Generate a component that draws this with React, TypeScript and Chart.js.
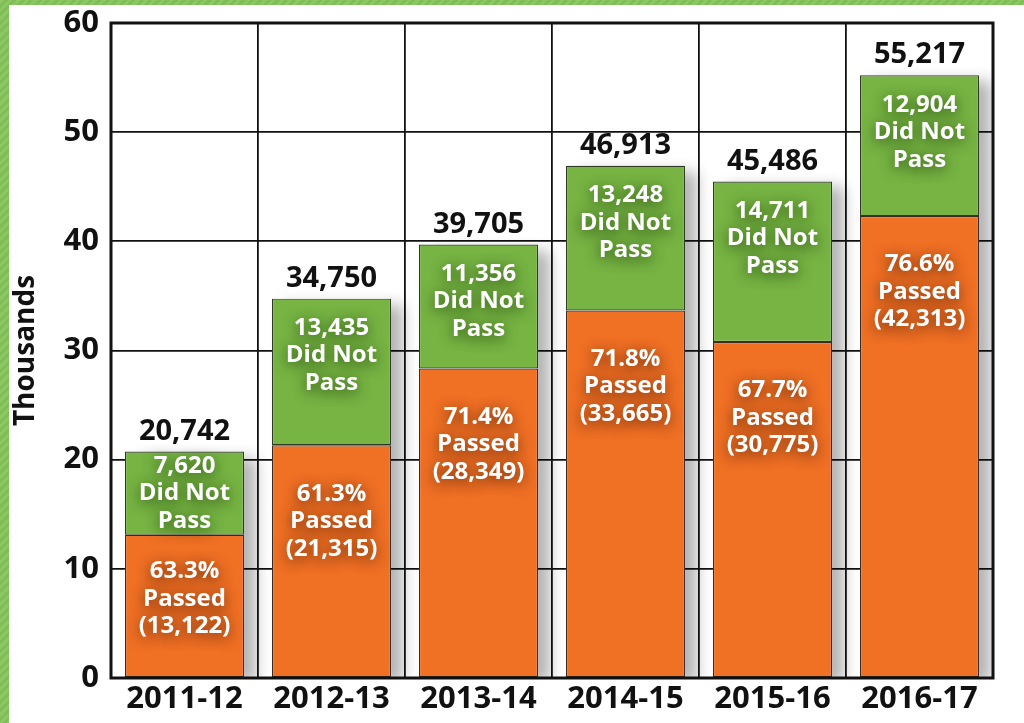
import React, { useEffect, useRef } from "react";
import { Chart, registerables } from "chart.js";

Chart.register(...registerables);

const categories = ["2011-12", "2012-13", "2013-14", "2014-15", "2015-16", "2016-17"];
const passed = [13.122, 21.315, 28.349, 33.665, 30.775, 42.313];
const didNotPass = [7.62, 13.435, 11.356, 13.248, 14.711, 12.904];
const totalLabels = ["20,742", "34,750", "39,705", "46,913", "45,486", "55,217"];
const passedLabels = [
  ["63.3%", "Passed", "(13,122)"],
  ["61.3%", "Passed", "(21,315)"],
  ["71.4%", "Passed", "(28,349)"],
  ["71.8%", "Passed", "(33,665)"],
  ["67.7%", "Passed", "(30,775)"],
  ["76.6%", "Passed", "(42,313)"],
];
const notPassLabels = [
  ["7,620", "Did Not", "Pass"],
  ["13,435", "Did Not", "Pass"],
  ["11,356", "Did Not", "Pass"],
  ["13,248", "Did Not", "Pass"],
  ["14,711", "Did Not", "Pass"],
  ["12,904", "Did Not", "Pass"],
];
const yTicks = [0, 10, 20, 30, 40, 50, 60];

const FONT = "'Open Sans', 'Noto Sans', sans-serif";
const ORANGE = "#F07024";
const GREEN = "#77B443";

const shadowPlugin = {
  id: "barShadow",
  beforeDatasetsDraw(chart: any) {
    const ctx = chart.ctx;
    const metaTop = chart.getDatasetMeta(1);
    const metaBottom = chart.getDatasetMeta(0);
    ctx.save();
    ctx.beginPath();
    ctx.rect(chart.chartArea.left, chart.chartArea.top, chart.chartArea.right - chart.chartArea.left, chart.chartArea.bottom - chart.chartArea.top);
    ctx.clip();
    metaTop.data.forEach((bar: any, i: number) => {
      const b = metaBottom.data[i] as any;
      const x0 = bar.x - bar.width / 2;
      const top = bar.y;
      const bottom = b.base;
      ctx.shadowColor = "rgba(0,0,0,0.3)";
      ctx.shadowBlur = 14;
      ctx.shadowOffsetX = 12;
      ctx.shadowOffsetY = 6;
      ctx.fillStyle = "#ffffff";
      ctx.fillRect(x0, top, bar.width, bottom - top);
    });
    ctx.restore();
  },
};

const labelPlugin = {
  id: "barLabels",
  afterDatasetsDraw(chart: any) {
    const ctx = chart.ctx;
    const m0 = chart.getDatasetMeta(0);
    const m1 = chart.getDatasetMeta(1);
    const lh = 27.5;
    ctx.save();
    ctx.textAlign = "center";
    ctx.textBaseline = "middle";
    m0.data.forEach((bar: any, i: number) => {
      const top = bar.y;
      const bottom = bar.base;
      const cy = Math.min(top + 76, (top + bottom) / 2 - 7);
      ctx.font = `bold 24px ${FONT}`;
      ctx.fillStyle = "#ffffff";
      ctx.shadowColor = "rgba(60,20,0,0.85)";
      ctx.shadowBlur = 14;
      ctx.shadowOffsetX = 0;
      ctx.shadowOffsetY = 3;
      passedLabels[i].forEach((t, k) => ctx.fillText(t, bar.x, cy + (k - 1) * lh));
    });
    m1.data.forEach((bar: any, i: number) => {
      const top = bar.y;
      const bottom = bar.base;
      const cy = Math.min(top + 57, (top + bottom) / 2);
      ctx.font = `bold 24px ${FONT}`;
      ctx.fillStyle = "#ffffff";
      ctx.shadowColor = "rgba(20,50,0,0.85)";
      ctx.shadowBlur = 14;
      ctx.shadowOffsetX = 0;
      ctx.shadowOffsetY = 3;
      notPassLabels[i].forEach((t, k) => ctx.fillText(t, bar.x, cy + (k - 1) * lh));
      ctx.shadowColor = "transparent";
      ctx.shadowBlur = 0;
      ctx.shadowOffsetY = 0;
      ctx.fillStyle = "#111111";
      ctx.font = `bold 29px ${FONT}`;
      ctx.fillText(totalLabels[i], bar.x, top - 20);
    });
    ctx.restore();
  },
};

const borderPlugin = {
  id: "plotBorder",
  afterDatasetsDraw(chart: any) {
    const { ctx, chartArea } = chart;
    ctx.save();
    ctx.strokeStyle = "#111111";
    ctx.lineWidth = 3;
    ctx.strokeRect(chartArea.left, chartArea.top, chartArea.right - chartArea.left, chartArea.bottom - chartArea.top);
    ctx.restore();
  },
};

export default function App() {
  const ref = useRef<HTMLCanvasElement | null>(null);
  useEffect(() => {
    if (!ref.current) return;
    const chart = new Chart(ref.current, {
      type: "bar",
      data: {
        labels: categories,
        datasets: [
          {
            label: "Passed",
            data: passed,
            backgroundColor: ORANGE,
            borderColor: "#3a2a20",
            borderWidth: 1.2,
            borderSkipped: false,
            barPercentage: 0.81,
            categoryPercentage: 1,
          },
          {
            label: "Did Not Pass",
            data: didNotPass,
            backgroundColor: GREEN,
            borderColor: "#2f3a25",
            borderWidth: 1.2,
            borderSkipped: false,
            barPercentage: 0.81,
            categoryPercentage: 1,
          },
        ],
      },
      options: {
        animation: false,
        responsive: false,
        maintainAspectRatio: false,
        layout: { padding: { top: 18, right: 31, bottom: 0, left: 0 } },
        plugins: {
          legend: { display: false },
          tooltip: { enabled: false },
        },
        scales: {
          x: {
            stacked: true,
            offset: true,
            grid: {
              offset: true,
              color: "#111111",
              lineWidth: 1.8,
              drawTicks: false,
            },
            border: { display: false },
            ticks: {
              color: "#111111",
              padding: 3,
              font: { family: FONT, size: 31, weight: "bold" },
            },
            afterFit(scale: any) {
              scale.height = 45;
              scale.paddingLeft = 0;
              scale.paddingRight = 0;
            },
          },
          y: {
            stacked: true,
            min: 0,
            max: 60,
            afterBuildTicks(scale: any) {
              scale.ticks = yTicks.map((v) => ({ value: v }));
            },
            grid: {
              color: "#111111",
              lineWidth: 1.8,
              drawTicks: false,
            },
            border: { display: false },
            ticks: {
              color: "#111111",
              padding: 12,
              font: { family: FONT, size: 31, weight: "bold" },
            },
            title: {
              display: true,
              text: "Thousands",
              color: "#111111",
              padding: { top: 0, bottom: 0 },
              font: { family: FONT, size: 28, weight: "bold" },
            },
            afterFit(scale: any) {
              scale.width = 102;
              scale.paddingTop = 0;
              scale.paddingBottom = 0;
            },
          },
        },
      },
      plugins: [shadowPlugin, labelPlugin, borderPlugin],
    } as any);
    return () => chart.destroy();
  }, []);

  return (
    <div
      style={{
        position: "fixed",
        left: 0,
        top: 0,
        width: 1024,
        height: 723,
        background:
          "repeating-linear-gradient(135deg, #8cc763 0px, #8cc763 3px, #7fbd55 3px, #7fbd55 6px)",
        overflow: "hidden",
      }}
    >
      <div
        style={{
          position: "absolute",
          left: 9,
          top: 5,
          width: 1015,
          height: 718,
          background: "#ffffff",
        }}
      >
        <canvas ref={ref} width={1015} height={718} style={{ display: "block" }} />
      </div>
    </div>
  );
}
